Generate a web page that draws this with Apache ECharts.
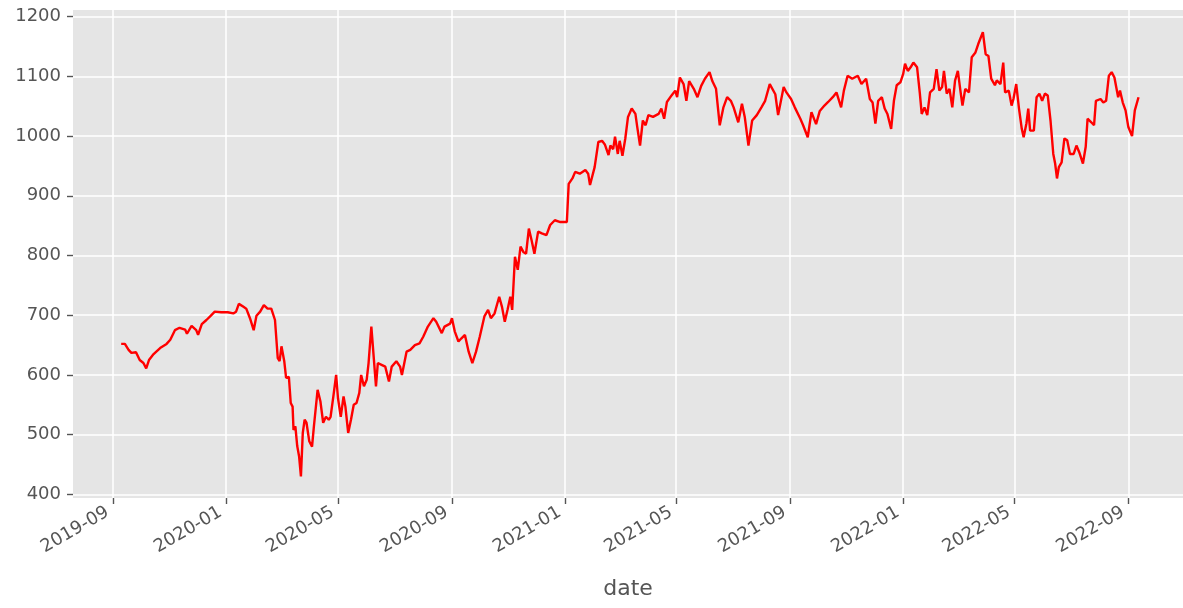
<!DOCTYPE html>
<html>
<head>
<meta charset="utf-8">
<script src="https://cdn.jsdelivr.net/npm/echarts@6/dist/echarts.min.js"></script>
<style>
html,body{margin:0;padding:0;background:#fff;}
#chart{width:1183px;height:608px;}
</style>
</head>
<body>
<div id="chart"></div>
<script>
const dates = [
'2019-09-10','2019-09-14','2019-09-18','2019-09-21','2019-09-26','2019-09-30','2019-10-04','2019-10-07','2019-10-10','2019-10-15',
'2019-10-22','2019-10-29','2019-11-02','2019-11-07','2019-11-12','2019-11-18','2019-11-20','2019-11-25','2019-11-30','2019-12-02',
'2019-12-06','2019-12-11','2019-12-15','2019-12-20','2019-12-27','2020-01-03','2020-01-09','2020-01-12','2020-01-15','2020-01-20',
'2020-01-23','2020-01-27','2020-01-31','2020-02-03','2020-02-07','2020-02-11','2020-02-15','2020-02-19','2020-02-23','2020-02-26',
'2020-02-28','2020-03-01','2020-03-04','2020-03-06','2020-03-09','2020-03-11','2020-03-13','2020-03-14','2020-03-16','2020-03-18',
'2020-03-20','2020-03-22','2020-03-24','2020-03-26','2020-03-28','2020-03-31','2020-04-03','2020-04-05','2020-04-09','2020-04-12',
'2020-04-15','2020-04-18','2020-04-21','2020-04-23','2020-04-26','2020-04-29','2020-05-01','2020-05-04','2020-05-07','2020-05-09',
'2020-05-12','2020-05-15','2020-05-18','2020-05-21','2020-05-24','2020-05-26','2020-05-29','2020-06-01','2020-06-03','2020-06-06',
'2020-06-11','2020-06-13','2020-06-17','2020-06-21','2020-06-25','2020-06-28','2020-07-03','2020-07-07','2020-07-09','2020-07-14',
'2020-07-18','2020-07-23','2020-07-28','2020-08-01','2020-08-06','2020-08-12','2020-08-15','2020-08-21','2020-08-24','2020-08-30',
'2020-09-01','2020-09-04','2020-09-08','2020-09-11','2020-09-15','2020-09-19','2020-09-23','2020-09-27','2020-10-01','2020-10-06',
'2020-10-10','2020-10-13','2020-10-17','2020-10-22','2020-10-25','2020-10-28','2020-10-31','2020-11-03','2020-11-05','2020-11-08',
'2020-11-11','2020-11-14','2020-11-17','2020-11-20','2020-11-23','2020-11-26','2020-11-29','2020-12-03','2020-12-07','2020-12-12',
'2020-12-16','2020-12-21','2020-12-27','2020-12-30','2021-01-03','2021-01-05','2021-01-09','2021-01-12','2021-01-17','2021-01-23',
'2021-01-26','2021-01-28','2021-02-02','2021-02-06','2021-02-10','2021-02-13','2021-02-17','2021-02-19','2021-02-22','2021-02-24',
'2021-02-27','2021-03-01','2021-03-04','2021-03-07','2021-03-10','2021-03-14','2021-03-18','2021-03-20','2021-03-23','2021-03-26',
'2021-03-29','2021-04-01','2021-04-06','2021-04-12','2021-04-15','2021-04-18','2021-04-21','2021-04-26','2021-04-30','2021-05-02',
'2021-05-05','2021-05-09','2021-05-12','2021-05-15','2021-05-20','2021-05-24','2021-05-28','2021-06-01','2021-06-06','2021-06-09',
'2021-06-13','2021-06-17','2021-06-21','2021-06-25','2021-06-29','2021-07-02','2021-07-07','2021-07-11','2021-07-14','2021-07-18',
'2021-07-22','2021-07-27','2021-08-01','2021-08-05','2021-08-10','2021-08-16','2021-08-19','2021-08-25','2021-08-28','2021-09-02',
'2021-09-06','2021-09-12','2021-09-15','2021-09-20','2021-09-24','2021-09-29','2021-10-03','2021-10-08','2021-10-12','2021-10-17',
'2021-10-21','2021-10-26','2021-10-29','2021-11-02','2021-11-07','2021-11-13','2021-11-17','2021-11-22','2021-11-26','2021-11-29',
'2021-12-02','2021-12-05','2021-12-09','2021-12-12','2021-12-15','2021-12-19','2021-12-22','2021-12-25','2021-12-29','2022-01-01',
'2022-01-03','2022-01-06','2022-01-09','2022-01-12','2022-01-16','2022-01-19','2022-01-21','2022-01-24','2022-01-27','2022-01-30',
'2022-02-03','2022-02-06','2022-02-09','2022-02-12','2022-02-14','2022-02-17','2022-02-20','2022-02-23','2022-02-26','2022-03-01',
'2022-03-04','2022-03-06','2022-03-09','2022-03-13','2022-03-16','2022-03-20','2022-03-23','2022-03-25','2022-03-28','2022-03-31',
'2022-04-03','2022-04-06','2022-04-10','2022-04-12','2022-04-16','2022-04-19','2022-04-21','2022-04-25','2022-04-28','2022-04-30',
'2022-05-03','2022-05-06','2022-05-09','2022-05-11','2022-05-14','2022-05-16','2022-05-18','2022-05-22','2022-05-25','2022-05-28',
'2022-05-31','2022-06-03','2022-06-06','2022-06-09','2022-06-12','2022-06-14','2022-06-16','2022-06-18','2022-06-21','2022-06-24',
'2022-06-27','2022-06-30','2022-07-04','2022-07-07','2022-07-10','2022-07-14','2022-07-17','2022-07-19','2022-07-23','2022-07-26',
'2022-07-28','2022-08-02','2022-08-05','2022-08-08','2022-08-11','2022-08-14','2022-08-17','2022-08-21','2022-08-23','2022-08-26',
'2022-08-29','2022-09-01','2022-09-05','2022-09-08','2022-09-12'
];
const values = [
652,652,642,637,638,625,620,611,625,635,
645,652,659,675,679,676,669,682,675,667,
685,692,698,706,705,705,703,706,719,714,
711,695,675,699,706,717,711,711,692,628,
623,648,623,595,597,553,547,508,514,481,
464,430,503,525,520,489,480,514,575,556,
520,530,525,530,564,600,561,530,564,547,
503,525,550,553,570,600,581,592,620,681,
581,620,617,614,589,614,623,614,600,639,
642,650,653,664,681,695,689,670,681,686,
695,673,656,661,667,639,620,639,664,698,
709,695,703,731,714,689,709,731,709,798,
776,815,806,803,845,825,803,840,837,834,
851,859,856,856,856,920,929,940,937,943,
937,918,948,990,992,986,968,984,978,999,
970,992,967,995,1032,1046,1037,1015,984,1026,
1018,1035,1032,1037,1046,1029,1057,1068,1076,1065,
1098,1087,1059,1092,1079,1065,1084,1096,1107,1092,
1079,1018,1048,1065,1059,1048,1023,1054,1032,984,
1026,1035,1048,1059,1087,1070,1035,1082,1073,1062,
1048,1029,1018,998,1040,1020,1042,1051,1057,1065,
1073,1048,1076,1101,1096,1101,1087,1096,1062,1056,
1021,1059,1065,1046,1037,1012,1059,1085,1090,1104,
1121,1109,1115,1123,1115,1071,1037,1048,1035,1073,
1079,1112,1076,1082,1109,1071,1079,1048,1093,1109,
1073,1051,1079,1073,1132,1140,1154,1162,1174,1137,
1134,1096,1085,1093,1087,1123,1073,1076,1051,1062,
1087,1046,1012,998,1021,1046,1009,1009,1065,1071,
1059,1071,1068,1026,970,954,929,948,956,996,
993,970,970,984,973,954,982,1029,1023,1018,
1059,1062,1056,1059,1101,1107,1098,1065,1076,1056,
1043,1015,1000,1043,1065
];
const xTickDates = ['2019-09-01','2020-01-01','2020-05-01','2020-09-01','2021-01-01','2021-05-01','2021-09-01','2022-01-01','2022-05-01','2022-09-01'];
const yTicks = [400, 500, 600, 700, 800, 900, 1000, 1100, 1200];
const xRange = ['2019-07-20','2022-10-30'];
const yRange = [394, 1211];
const xName = 'date';

const ts = s => { const p = s.split('-').map(Number); return Date.UTC(p[0], p[1] - 1, p[2]); };
const fmt = v => { const d = new Date(v); return d.getUTCFullYear() + '-' + String(d.getUTCMonth() + 1).padStart(2, '0'); };
const xTicks = xTickDates.map(ts);
const seriesData = dates.map((d, i) => [ts(d), values[i]]);

const chart = echarts.init(document.getElementById('chart'), null, {renderer: 'canvas'});
const font = 'DejaVu Sans';
const gray = '#555555';
chart.setOption({
  animation: false,
  backgroundColor: '#ffffff',
  grid: {left: 73, right: 0, top: 10, bottom: 110, show: true, backgroundColor: '#E5E5E5', borderWidth: 0},
  xAxis: {
    type: 'value',
    min: ts(xRange[0]),
    max: ts(xRange[1]),
    axisLine: {show: false},
    axisTick: {show: true, length: 6, lineStyle: {color: gray, width: 1.4}, customValues: xTicks},
    axisLabel: {
      customValues: xTicks,
      rotate: 30,
      color: gray,
      fontFamily: font,
      fontSize: 18,
      margin: 10,
      padding: [0, 6, 0, 0],
      formatter: fmt
    },
    splitLine: {show: true, lineStyle: {color: '#ffffff', width: 1.5}},
    name: xName,
    nameLocation: 'middle',
    nameGap: 80,
    nameTextStyle: {color: gray, fontFamily: font, fontSize: 22}
  },
  yAxis: {
    type: 'value',
    min: yRange[0],
    max: yRange[1],
    axisLine: {show: false},
    axisTick: {show: true, length: 6, lineStyle: {color: gray, width: 1.4}, customValues: yTicks},
    axisLabel: {customValues: yTicks, color: gray, fontFamily: font, fontSize: 18, margin: 12, formatter: v => String(v)},
    splitLine: {show: true, lineStyle: {color: '#ffffff', width: 1.5}}
  },
  series: [{
    type: 'line',
    data: seriesData,
    showSymbol: false,
    lineStyle: {color: '#ff0000', width: 2.4},
    itemStyle: {color: '#ff0000'}
  }]
});
</script>
</body>
</html>
